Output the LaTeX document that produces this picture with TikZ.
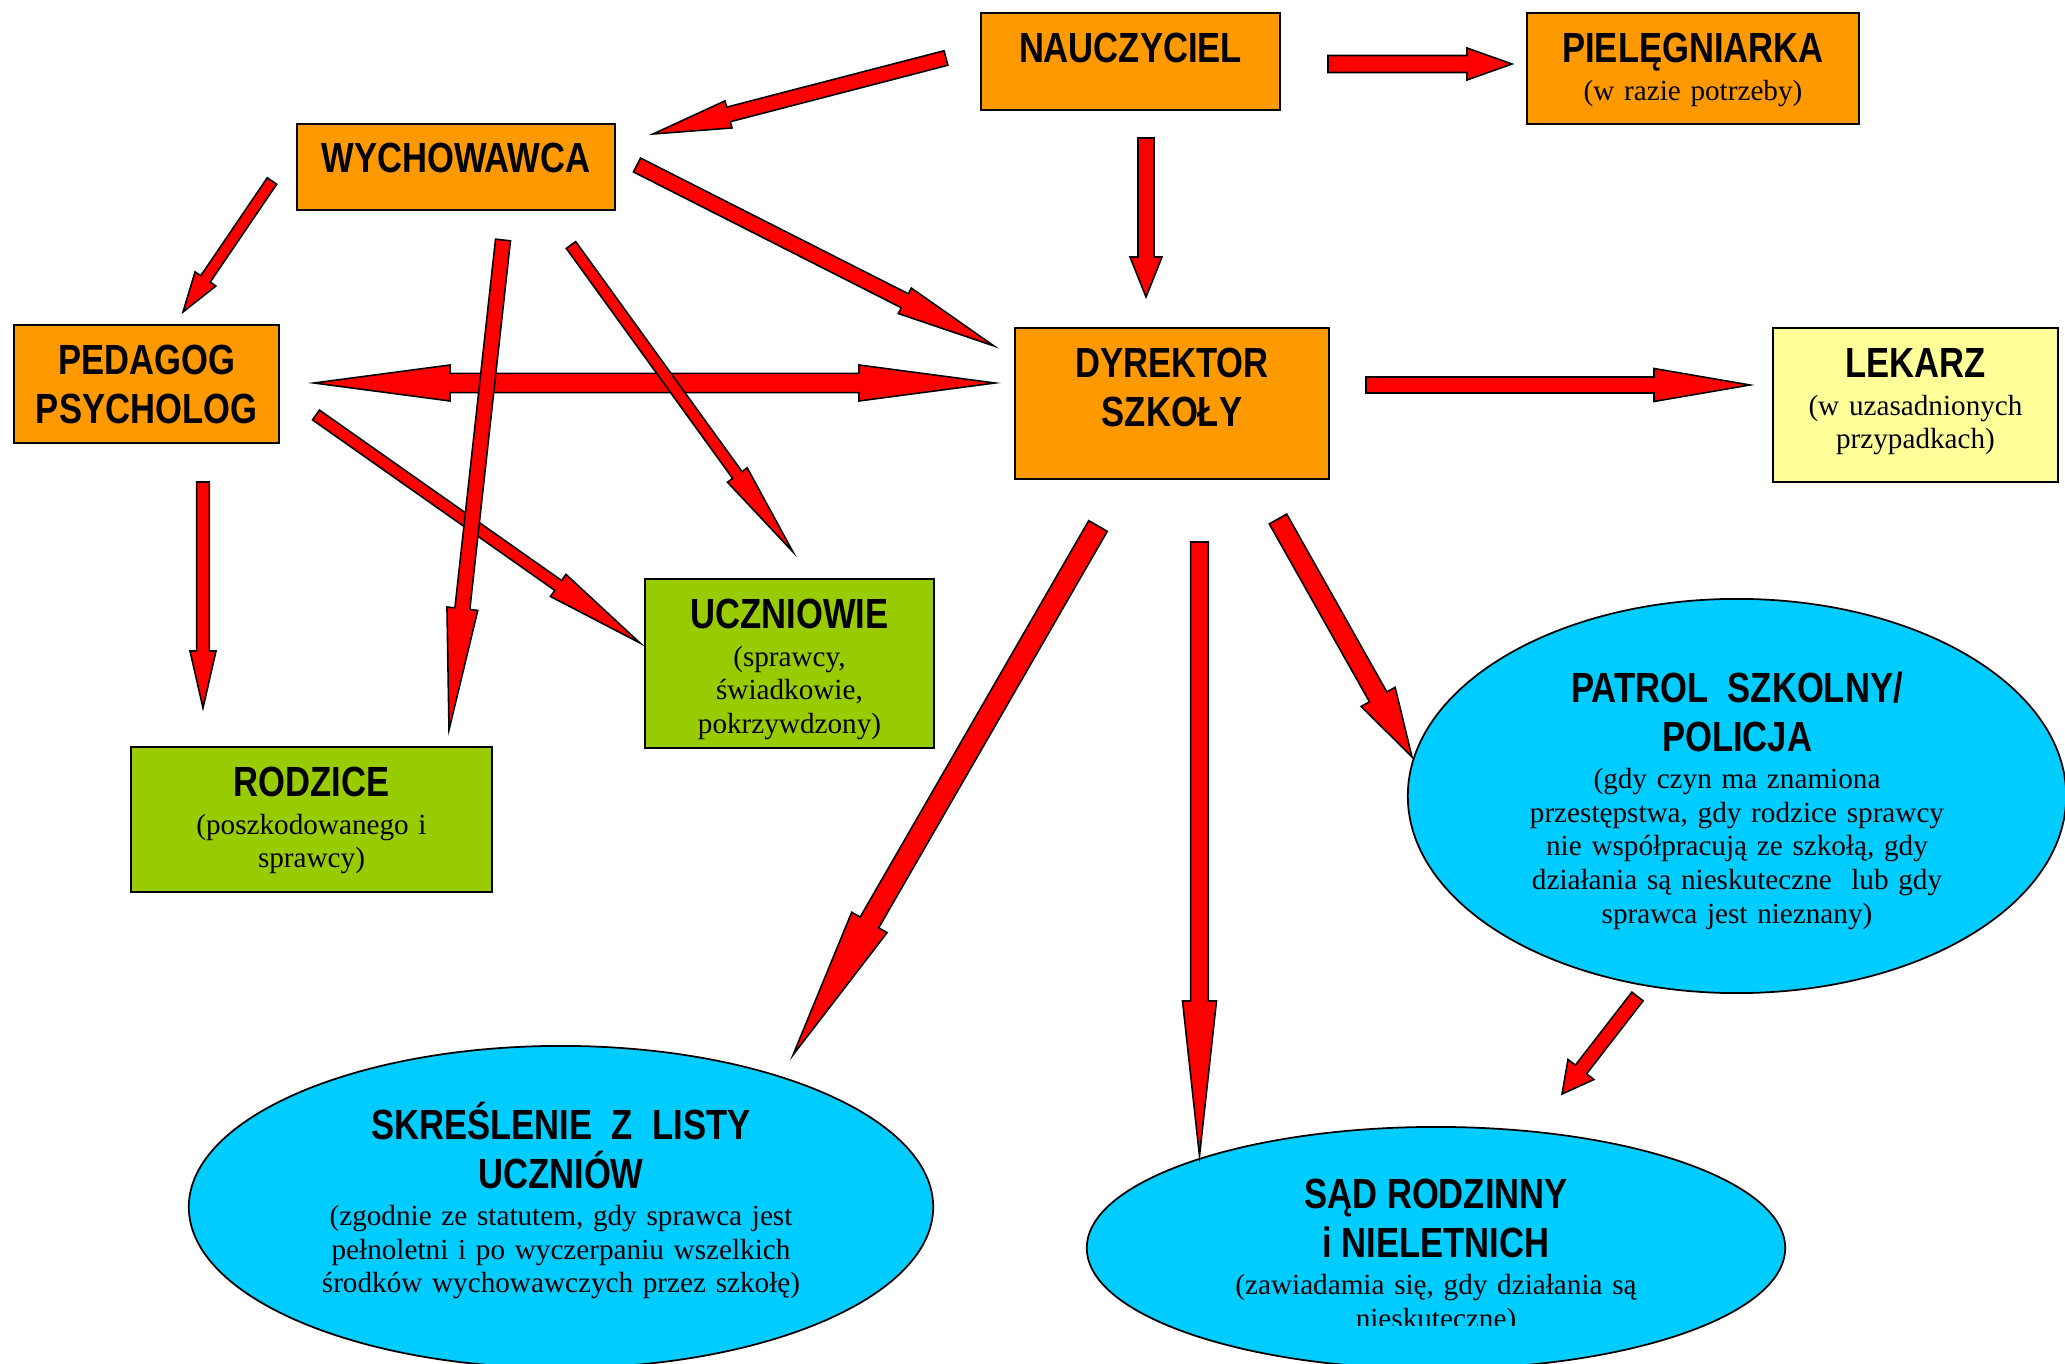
\documentclass[tikz,border=0pt]{standalone}
\usepackage{fontspec}
\setmainfont{Liberation Serif}
\newfontfamily\narrowsans[FakeStretch=0.82]{Liberation Sans}
\usetikzlibrary{
    calc,
    shapes.geometric % ellipse nodes
}

\definecolor{boxorange}{HTML}{FF9900}
\definecolor{boxgreen}{HTML}{99CC00}
\definecolor{boxyellow}{HTML}{FFFF99}
\definecolor{ovalblue}{HTML}{00CCFF}

\newcommand\ttl{\narrowsans\bfseries\fontsize{12}{14}\selectfont}
\newcommand\subfont{\lineskiplimit=-100pt\relax\fontsize{8.3}{9.55}\selectfont}
\newcommand\hstrut[1]{\rule{0pt}{#1}}
\newcommand\dstrut[1]{\rule[-#1]{0pt}{0pt}}

\tikzset{
    box/.style={draw, line width=0.5pt, inner sep=0pt, align=center, font=\subfont},
    oval/.style={box, ellipse, fill=ovalblue},
    arrowbody/.style={draw, fill=red, line width=0.45pt, line join=miter}
}

% block arrow: tail, tip, shaft half width, head half width, head length (px)
\newcommand\blockarrow[5]{%
    \coordinate (hb) at ($(#2)!#5*0.01cm!(#1)$);
    \draw[arrowbody] ($(#1)!#3*0.01cm!90:(#2)$) -- ($(hb)!#3*0.01cm!90:(#2)$)
        -- ($(hb)!#4*0.01cm!90:(#2)$) -- (#2) -- ($(hb)!#4*0.01cm!-90:(#2)$)
        -- ($(hb)!#3*0.01cm!-90:(#2)$) -- ($(#1)!#3*0.01cm!-90:(#2)$) -- cycle;}
% the same with a head at both ends
\newcommand\twoarrow[5]{%
    \coordinate (ha) at ($(#1)!#5*0.01cm!(#2)$);
    \coordinate (hb) at ($(#2)!#5*0.01cm!(#1)$);
    \draw[arrowbody] (#1) -- ($(ha)!#4*0.01cm!90:(#2)$) -- ($(ha)!#3*0.01cm!90:(#2)$)
        -- ($(hb)!#3*0.01cm!90:(#2)$) -- ($(hb)!#4*0.01cm!90:(#2)$) -- (#2)
        -- ($(hb)!#4*0.01cm!-90:(#2)$) -- ($(hb)!#3*0.01cm!-90:(#2)$)
        -- ($(ha)!#3*0.01cm!-90:(#2)$) -- ($(ha)!#4*0.01cm!-90:(#2)$) -- cycle;}

\begin{document}
\begin{tikzpicture}[x=0.01cm, y=-0.01cm]
    \useasboundingbox (0,0) rectangle (2065,1364);

    % boxes
    \node[box, fill=boxorange, minimum width=2.99cm, minimum height=0.97cm, text width=2.8cm]
        (nauczyciel) at (1130.5,61.5) {\hstrut{14pt}{\ttl NAUCZYCIEL}\dstrut{13.15pt}};
    \node[box, fill=boxorange, minimum width=3.32cm, minimum height=1.11cm, text width=3.1cm]
        (pielegniarka) at (1693,68.5) {\hstrut{14pt}{\ttl PIELĘGNIARKA}\\[1.05pt]
        (w razie potrzeby)\dstrut{6.53pt}};
    \node[box, fill=boxorange, minimum width=3.18cm, minimum height=0.86cm, text width=3cm]
        (wychowawca) at (456,167) {\hstrut{14pt}{\ttl WYCHOWAWCA}\dstrut{10.59pt}};
    \node[box, fill=boxorange, minimum width=2.65cm, minimum height=1.18cm, text width=2.5cm]
        (pedagog) at (146.5,384) {\hstrut{14pt}{\ttl PEDAGOG}\\[4.25pt]
        {\ttl PSYCHOLOG}\dstrut{5.32pt}};
    \node[box, fill=boxorange, minimum width=3.14cm, minimum height=1.51cm, text width=2.9cm]
        (dyrektor) at (1172,403.5) {\hstrut{14pt}{\ttl DYREKTOR}\\[4.25pt]
        {\ttl SZKOŁY}\dstrut{14.71pt}};
    \node[box, fill=boxyellow, minimum width=2.85cm, minimum height=1.54cm, text width=2.7cm]
        (lekarz) at (1915.5,405) {\hstrut{14pt}{\ttl LEKARZ}\\[1.05pt]
        (w uzasadnionych\\ przypadkach)\dstrut{9.21pt}};
    \node[box, fill=boxgreen, minimum width=2.89cm, minimum height=1.69cm, text width=2.7cm]
        (uczniowie) at (789.5,663.5) {\hstrut{14pt}{\ttl UCZNIOWIE}\\[1.05pt]
        (sprawcy,\\ świadkowie,\\ pokrzywdzony)\dstrut{3.93pt}};
    \node[box, fill=boxgreen, minimum width=3.61cm, minimum height=1.45cm, text width=3.4cm]
        (rodzice) at (311.5,819.5) {\hstrut{14pt}{\ttl RODZICE}\\[1.05pt]
        (poszkodowanego i\\ sprawcy)\dstrut{6.65pt}};

    % ovals
    \node[oval, minimum width=6.58cm, minimum height=3.94cm, text width=4.3cm]
        (patrol) at (1737,796) {\hstrut{12pt}{\ttl PATROL\ \ SZKOLNY/}\\[4.25pt]
        {\ttl POLICJA}\\[1.05pt]
        (gdy czyn ma znamiona\\ przestępstwa, gdy rodzice sprawcy\\
        nie współpracują ze szkołą, gdy\\ działania są nieskuteczne\ \ lub gdy\\
        sprawca jest nieznany)\dstrut{2.32pt}};
    \node[oval, minimum width=7.44cm, minimum height=3.22cm, text width=5cm]
        (skreslenie) at (561,1207) {\hstrut{12pt}{\ttl SKREŚLENIE\ \ Z\ \ LISTY}\\[4.25pt]
        {\ttl UCZNIÓW}\\[1.05pt]
        (zgodnie ze statutem, gdy sprawca jest\\ pełnoletni i po wyczerpaniu wszelkich\\
        środków wychowawczych przez szkołę)\dstrut{6.62pt}};
    \node[oval, minimum width=6.98cm, minimum height=2.42cm, text width=4.5cm]
        (sad) at (1436,1248) {\hstrut{12pt}{\ttl SĄD RODZINNY}\\[4.25pt]
        {\ttl i NIELETNICH}\\[1.05pt]
        (zawiadamia się, gdy działania są\dstrut{9.79pt}};
    \begin{scope}
        \clip (1100,1200) rectangle (1780,1326);
        \node[anchor=base, inner sep=0pt, font=\subfont]
            (sadcut) at (1436,1329) {nieskuteczne)};
    \end{scope}

    % arrow ends
    \coordinate (n2w-a) at (946,58);    \coordinate (n2w-b) at (653,134);
    \coordinate (n2p-a) at (1328,64);   \coordinate (n2p-b) at (1512,64);
    \coordinate (n2d-a) at (1146,138);  \coordinate (n2d-b) at (1146,297);
    \coordinate (w2d-a) at (637,165);   \coordinate (w2d-b) at (994,346);
    \coordinate (w2p-a) at (272,181);   \coordinate (w2p-b) at (183,312);
    \coordinate (w2r-a) at (503,240);   \coordinate (w2r-b) at (449,730);
    \coordinate (w2u-a) at (571,245);   \coordinate (w2u-b) at (793,552);
    \coordinate (pd-a) at (314,383);    \coordinate (pd-b) at (995,383);
    \coordinate (p2u-a) at (316,415);   \coordinate (p2u-b) at (640,643);
    \coordinate (p2r-a) at (203,482);   \coordinate (p2r-b) at (203,708);
    \coordinate (d2l-a) at (1366,385);  \coordinate (d2l-b) at (1750,385);
    \coordinate (d2s-a) at (1098,526);  \coordinate (d2s-b) at (793,1055);
    \coordinate (d2c-a) at (1199.5,542);\coordinate (d2c-b) at (1199.5,1156);
    \coordinate (d2p-a) at (1278,519);  \coordinate (d2p-b) at (1412,757);
    \coordinate (p2c-a) at (1637.5,996.5); \coordinate (p2c-b) at (1562,1094);

    % arrows
    \blockarrow{n2w-a}{n2w-b}{7.5}{14}{78}
    \blockarrow{n2p-a}{n2p-b}{8.5}{16}{45}
    \blockarrow{n2d-a}{n2d-b}{8}{16}{40}
    \blockarrow{w2d-a}{w2d-b}{7.8}{14.3}{100}
    \blockarrow{w2p-a}{w2p-b}{5.7}{12.6}{40}
    \twoarrow{pd-a}{pd-b}{9.7}{18}{136}
    \blockarrow{p2u-a}{p2u-b}{6}{13.5}{100}
    \blockarrow{w2r-a}{w2r-b}{7.5}{15.5}{122}
    \blockarrow{w2u-a}{w2u-b}{5.8}{12.2}{95}
    \blockarrow{p2r-a}{p2r-b}{6.4}{13}{57}
    \blockarrow{d2l-a}{d2l-b}{8}{16.5}{96}
    \blockarrow{d2s-a}{d2s-b}{10.7}{20.4}{153}
    \blockarrow{d2c-a}{d2c-b}{8.8}{17}{155}
    \blockarrow{d2p-a}{d2p-b}{10}{19.5}{69}
    \blockarrow{p2c-a}{p2c-b}{7.1}{16.4}{31}
\end{tikzpicture}
\end{document}
